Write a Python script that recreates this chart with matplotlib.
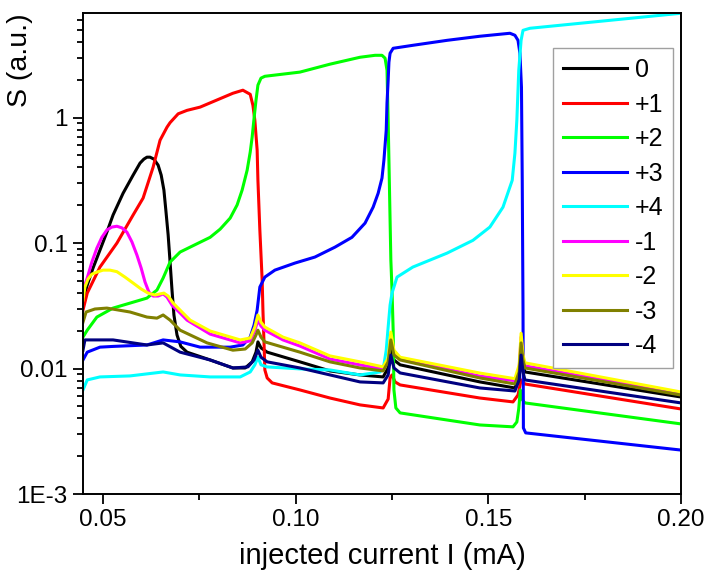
import matplotlib
matplotlib.use('Agg')
import matplotlib.pyplot as plt
from matplotlib.ticker import MultipleLocator, LogLocator, NullFormatter, FormatStrFormatter

plt.rcParams['font.family'] = ['Liberation Sans', 'DejaVu Sans']

# injected current (mA) and photon number S (a.u.) for each mode
i_0 = [0.0448, 0.0459, 0.0474, 0.0492, 0.0510, 0.0526, 0.0552, 0.0578, 0.0596, 0.0606,
       0.0614, 0.0622, 0.0632, 0.0643, 0.0651, 0.0658, 0.0663, 0.0669, 0.0674, 0.0679,
       0.0684, 0.0692, 0.0702, 0.0718, 0.0778, 0.0837, 0.0869, 0.0887, 0.0897, 0.0902,
       0.0910, 0.0926, 0.1011, 0.1089, 0.1167, 0.1227, 0.1240, 0.1247, 0.1255, 0.1271,
       0.1478, 0.1569, 0.1580, 0.1585, 0.1590, 0.1595, 0.2000]
s_0 = [0.0351, 0.0462, 0.0631, 0.0877, 0.122, 0.167, 0.249, 0.347, 0.433, 0.466,
       0.483, 0.483, 0.466, 0.417, 0.347, 0.264, 0.183, 0.116, 0.0705, 0.0422,
       0.0267, 0.0185, 0.0150, 0.0135, 0.0117, 0.0101, 0.0101, 0.0113, 0.0135, 0.0163,
       0.0146, 0.0135, 0.0113, 0.00957, 0.00889, 0.00857, 0.0101, 0.0154, 0.0117, 0.0107,
       0.00782, 0.0070, 0.00841, 0.0154, 0.0107, 0.00939, 0.00593]

i_p1 = [0.0448, 0.0459, 0.0492, 0.0536, 0.0578, 0.0604, 0.0630, 0.0648, 0.0666, 0.0674,
        0.0695, 0.0718, 0.0752, 0.0837, 0.0863, 0.0882, 0.0889, 0.0894, 0.0900, 0.0902,
        0.0907, 0.0913, 0.0915, 0.0918, 0.0920, 0.0926, 0.0939, 0.1011, 0.1089, 0.1167,
        0.1227, 0.1240, 0.1245, 0.1250, 0.1258, 0.1271, 0.1478, 0.1564, 0.1577, 0.1585,
        0.1590, 0.1595, 0.2000]
s_p1 = [0.0292, 0.0399, 0.0643, 0.0998, 0.167, 0.228, 0.402, 0.659, 0.837, 0.910,
        1.07, 1.14, 1.21, 1.56, 1.65, 1.53, 1.25, 0.952, 0.549, 0.316,
        0.127, 0.0507, 0.0292, 0.0154, 0.00974, 0.00841, 0.00768, 0.00675, 0.00582, 0.00513,
        0.00485, 0.00571, 0.00841, 0.00889, 0.00782, 0.0074, 0.00582, 0.00542, 0.00615, 0.00811,
        0.00782, 0.00753, 0.00476]

i_p2 = [0.0448, 0.0459, 0.0484, 0.0526, 0.0570, 0.0614, 0.0640, 0.0656, 0.0674, 0.0700,
        0.0726, 0.0778, 0.0804, 0.0830, 0.0848, 0.0861, 0.0874, 0.0882, 0.0887, 0.0892,
        0.0897, 0.0902, 0.0910, 0.0920, 0.1011, 0.1089, 0.1167, 0.1206, 0.1224, 0.1232,
        0.1237, 0.1240, 0.1245, 0.1247, 0.1250, 0.1253, 0.1255, 0.1260, 0.1271, 0.1478,
        0.1564, 0.1574, 0.1579, 0.1583, 0.1587, 0.1595, 0.2000]
s_p2 = [0.0178, 0.0202, 0.0257, 0.0303, 0.0332, 0.0364, 0.0422, 0.0526, 0.0705, 0.0847,
        0.0927, 0.111, 0.129, 0.158, 0.201, 0.264, 0.380, 0.530, 0.697, 0.988,
        1.37, 1.81, 2.06, 2.13, 2.30, 2.66, 3.02, 3.13, 3.13, 2.97,
        2.38, 0.952, 0.152, 0.0731, 0.0422, 0.0202, 0.00675, 0.00485, 0.00443, 0.00355,
        0.00343, 0.00375, 0.00480, 0.00675, 0.00571, 0.00532, 0.00362]

i_p3 = [0.0448, 0.0459, 0.0492, 0.0526, 0.0614, 0.0656, 0.0700, 0.0752, 0.0830, 0.0863,
        0.0882, 0.0892, 0.0900, 0.0907, 0.0920, 0.0946, 0.0998, 0.1050, 0.1102, 0.1146,
        0.1180, 0.1201, 0.1214, 0.1224, 0.1229, 0.1235, 0.1237, 0.1240, 0.1242, 0.1245,
        0.1253, 0.1304, 0.1393, 0.1478, 0.1556, 0.1569, 0.1577, 0.1582, 0.1586, 0.1588,
        0.1590, 0.1591, 0.1597, 0.2000]
s_p3 = [0.0117, 0.0135, 0.0148, 0.0150, 0.0154, 0.0169, 0.0163, 0.0148, 0.0148, 0.0154,
        0.0178, 0.0222, 0.0292, 0.0446, 0.0535, 0.0608, 0.0692, 0.0773, 0.0927, 0.111,
        0.144, 0.193, 0.249, 0.329, 0.457, 0.792, 1.30, 1.98, 2.76, 3.25,
        3.56, 3.76, 4.12, 4.44, 4.69, 4.52, 4.12, 3.25, 1.74, 0.316,
        0.0292, 0.00336, 0.00307, 0.00224]

i_p4 = [0.0448, 0.0459, 0.0492, 0.0570, 0.0656, 0.0700, 0.0778, 0.0856, 0.0882, 0.0894,
        0.0902, 0.0910, 0.0926, 0.1011, 0.1089, 0.1167, 0.1219, 0.1229, 0.1235, 0.1240,
        0.1245, 0.1250, 0.1263, 0.1304, 0.1393, 0.1460, 0.1504, 0.1538, 0.1562, 0.1569,
        0.1574, 0.1579, 0.1585, 0.1590, 0.1608, 0.2000]
s_p4 = [0.00675, 0.00811, 0.00857, 0.00873, 0.00939, 0.00889, 0.00857, 0.00857, 0.00939, 0.0107,
        0.0123, 0.0107, 0.0103, 0.00993, 0.00974, 0.00889, 0.00939, 0.0107, 0.0140, 0.0214,
        0.0320, 0.0399, 0.0535, 0.0643, 0.0831, 0.105, 0.134, 0.193, 0.316, 0.520,
        0.952, 2.38, 4.12, 4.95, 5.14, 6.77]

i_m1 = [0.0448, 0.0459, 0.0471, 0.0484, 0.0497, 0.0510, 0.0523, 0.0536, 0.0549, 0.0562,
        0.0575, 0.0588, 0.0599, 0.0609, 0.0619, 0.0630, 0.0643, 0.0656, 0.0666, 0.0679,
        0.0700, 0.0718, 0.0778, 0.0856, 0.0882, 0.0894, 0.0902, 0.0910, 0.0920, 0.0967,
        0.1011, 0.1089, 0.1167, 0.1227, 0.1240, 0.1247, 0.1255, 0.1271, 0.1478, 0.1569,
        0.1580, 0.1585, 0.1590, 0.1595, 0.2000]
s_m1 = [0.0422, 0.0526, 0.0705, 0.091, 0.111, 0.127, 0.134, 0.136, 0.132, 0.122,
        0.102, 0.0801, 0.0631, 0.0489, 0.0407, 0.0378, 0.0378, 0.0393, 0.0371, 0.0320,
        0.0277, 0.0243, 0.0188, 0.0160, 0.0166, 0.0202, 0.0243, 0.0218, 0.0202, 0.0169,
        0.0151, 0.0119, 0.0107, 0.0099, 0.0115, 0.0182, 0.0135, 0.0119, 0.0087, 0.0080,
        0.0101, 0.0178, 0.0123, 0.0105, 0.0063]

i_m2 = [0.0448, 0.0453, 0.0461, 0.0471, 0.0484, 0.0500, 0.0518, 0.0536, 0.0557, 0.0578,
        0.0599, 0.0617, 0.0635, 0.0648, 0.0658, 0.0669, 0.0682, 0.0700, 0.0726, 0.0778,
        0.0856, 0.0882, 0.0894, 0.0902, 0.0910, 0.0920, 0.0967, 0.1011, 0.1089, 0.1167,
        0.1227, 0.1240, 0.1247, 0.1255, 0.1271, 0.1478, 0.1569, 0.1580, 0.1585, 0.1590,
        0.1595, 0.2000]
s_m2 = [0.0351, 0.0446, 0.0516, 0.0565, 0.0586, 0.0608, 0.0608, 0.0591, 0.0535, 0.0480,
        0.0430, 0.0399, 0.0385, 0.0393, 0.0399, 0.0378, 0.0332, 0.0292, 0.0243, 0.0199,
        0.0169, 0.0175, 0.0214, 0.0267, 0.0234, 0.0214, 0.0178, 0.0160, 0.0126, 0.0113,
        0.0103, 0.0121, 0.0195, 0.0140, 0.0123, 0.0092, 0.0083, 0.0107, 0.0191, 0.0128,
        0.0111, 0.0065]

i_m3 = [0.0448, 0.0456, 0.0479, 0.0510, 0.0570, 0.0614, 0.0640, 0.0656, 0.0674, 0.0700,
        0.0770, 0.0837, 0.0869, 0.0887, 0.0897, 0.0902, 0.0910, 0.0920, 0.1011, 0.1089,
        0.1167, 0.1227, 0.1240, 0.1247, 0.1255, 0.1271, 0.1478, 0.1569, 0.1580, 0.1585,
        0.1590, 0.1595, 0.2000]
s_m3 = [0.0234, 0.0282, 0.0298, 0.0303, 0.0282, 0.0257, 0.0252, 0.0267, 0.0243, 0.0202,
        0.0160, 0.0140, 0.0143, 0.0160, 0.0185, 0.0202, 0.0178, 0.0163, 0.0135, 0.0113,
        0.0101, 0.00957, 0.0113, 0.0169, 0.0128, 0.0117, 0.00841, 0.00753, 0.00939, 0.0160,
        0.0117, 0.0101, 0.00615]

i_m4 = [0.0448, 0.0453, 0.0526, 0.0614, 0.0656, 0.0700, 0.0778, 0.0837, 0.0876, 0.0892,
        0.0902, 0.0910, 0.0926, 0.1011, 0.1089, 0.1167, 0.1227, 0.1240, 0.1247, 0.1255,
        0.1271, 0.1478, 0.1569, 0.1580, 0.1585, 0.1590, 0.1595, 0.2000]
s_m4 = [0.0140, 0.0169, 0.0169, 0.0154, 0.0160, 0.0135, 0.0117, 0.0101, 0.0103, 0.0117,
        0.0140, 0.0123, 0.0113, 0.0101, 0.00889, 0.00782, 0.00768, 0.00889, 0.0128, 0.0101,
        0.00922, 0.0070, 0.00662, 0.00811, 0.0128, 0.00939, 0.00811, 0.00532]

labels = ['0', '+1', '+2', '+3', '+4', '-1', '-2', '-3', '-4']
colors = ['#000000', '#ff0000', '#00ff00', '#0000ff', '#00ffff',
          '#ff00ff', '#ffff00', '#808000', '#000080']
currents = [i_0, i_p1, i_p2, i_p3, i_p4, i_m1, i_m2, i_m3, i_m4]
photons = [s_0, s_p1, s_p2, s_p3, s_p4, s_m1, s_m2, s_m3, s_m4]

fig = plt.figure(figsize=(7.13, 5.81), dpi=100)
ax = fig.add_axes([0.1164, 0.1497, 0.8387, 0.8279])

for x, y, lab, c in zip(currents, photons, labels, colors):
    ax.plot(x, y, color=c, lw=2.2, label=lab, solid_joinstyle='round')

ax.set_yscale('log')
ax.set_xlim(0.0448, 0.2)
ax.set_ylim(1e-3, 6.8)

ax.set_xticks([0.05, 0.10, 0.15, 0.20])
ax.xaxis.set_major_formatter(FormatStrFormatter('%.2f'))
ax.xaxis.set_minor_locator(MultipleLocator(0.025))
ax.set_yticks([1e-3, 1e-2, 1e-1, 1])
ax.set_yticklabels(['1E-3', '0.01', '0.1', '1'])
ax.yaxis.set_minor_locator(LogLocator(base=10, subs=range(2, 10)))
ax.yaxis.set_minor_formatter(NullFormatter())

ax.tick_params(which='major', direction='out', length=7, width=1.3,
               labelsize=17.5, pad=4)
ax.tick_params(which='minor', direction='out', length=4, width=1.3)
for sp in ax.spines.values():
    sp.set_linewidth(1.4)

ax.set_xlabel('injected current I (mA)', fontsize=21, labelpad=8)
ax.set_ylabel('S (a.u.)', fontsize=20.5)
ax.yaxis.set_label_coords(-0.084, 0.902)

leg = ax.legend(loc='upper right', bbox_to_anchor=(0.987, 0.927), fontsize=18,
                frameon=True, fancybox=False, edgecolor='#a0a0a0', framealpha=1,
                handlelength=2.56, handletextpad=0.3, labelspacing=0.42,
                borderpad=0.4, borderaxespad=0)
leg.get_frame().set_linewidth(1.0)

fig.savefig('out.png', dpi=100)
